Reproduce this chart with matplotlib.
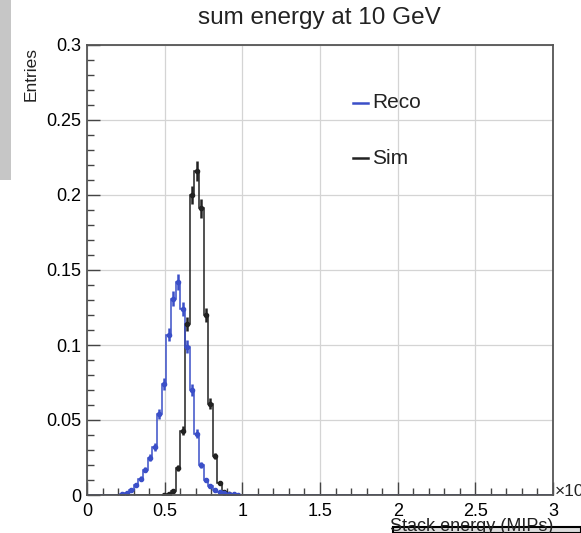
import matplotlib
matplotlib.use('Agg')
import matplotlib.pyplot as plt
from matplotlib.patches import Rectangle
from matplotlib.ticker import MultipleLocator, FixedLocator, FixedFormatter
import numpy as np

plt.rcParams['font.family'] = ['Liberation Sans', 'DejaVu Sans']

# binning: 100 bins over 0..3 (x10^3 MIPs)
n_bins = 100
x_lo = 0.0
x_hi = 3.0
n_entries = 5000   # used for the per-bin statistical errors

# normalised bin contents, starting at the given bin index
reco_start = 7
reco_vals = [0.0007, 0.0015, 0.0035, 0.007, 0.011, 0.017, 0.025, 0.032,
             0.054, 0.074, 0.107, 0.131, 0.142, 0.124, 0.099, 0.070,
             0.041, 0.020, 0.010, 0.006, 0.0035, 0.002, 0.0012, 0.0008,
             0.0004, 0.0002]
sim_start = 16
sim_vals = [0.0003, 0.001, 0.003, 0.018, 0.043, 0.114, 0.200, 0.216,
            0.191, 0.120, 0.061, 0.026, 0.008, 0.002, 0.0005]

yticks = [0, 0.05, 0.1, 0.15, 0.2, 0.25, 0.3]
ytick_labels = ['0', '0.05', '0.1', '0.15', '0.2', '0.25', '0.3']
xticks = [0, 0.5, 1, 1.5, 2, 2.5, 3]
xtick_labels = ['0', '0.5', '1', '1.5', '2', '2.5', '3']

reco_color = '#3b4fc8'
sim_color = '#222222'


def fill_hist(start, vals):
	h = np.zeros(n_bins)
	h[start:start+len(vals)] = vals
	return h


edges = np.linspace(x_lo, x_hi, n_bins+1)
centers = 0.5*(edges[1:]+edges[:-1])
reco = fill_hist(reco_start, reco_vals)
sim = fill_hist(sim_start, sim_vals)

W, H = 581, 533
fig = plt.figure(figsize=(W/100, H/100), dpi=100)
ax = fig.add_axes([87/W, 1-495/H, (553-87)/W, (495-45)/H])

ax.set_xlim(x_lo, x_hi)
ax.set_ylim(0, 0.3)

ax.xaxis.set_major_locator(FixedLocator(xticks))
ax.xaxis.set_major_formatter(FixedFormatter(xtick_labels))
ax.yaxis.set_major_locator(FixedLocator(yticks))
ax.yaxis.set_major_formatter(FixedFormatter(ytick_labels))
ax.xaxis.set_minor_locator(MultipleLocator(0.1))
ax.yaxis.set_minor_locator(MultipleLocator(0.01))
ax.tick_params(which='both', direction='in', color='#444444', width=1.0)
ax.tick_params(which='major', length=9.5, labelsize=13, pad=4)
ax.tick_params(axis='x', which='major', pad=6)
ax.tick_params(which='minor', length=5)
ax.grid(True, which='major', color='#d4d4d4', linewidth=0.9)
ax.set_axisbelow(True)
for s in ax.spines.values():
	s.set_color('#555555')
	s.set_linewidth(1.3)

# Sim first, Reco drawn on top of it
for h, col in [(sim, sim_color), (reco, reco_color)]:
	ax.stairs(h, edges, color=col, linewidth=1.1)
	m = h > 0
	err = np.sqrt(h[m]/n_entries)
	ax.errorbar(centers[m], h[m], yerr=err, fmt='o', ms=3.0, color=col,
		elinewidth=1.8, capsize=0)

# legend, no frame
for y, col, lab in [(102.7, reco_color, 'Reco'), (158.3, sim_color, 'Sim')]:
	fig.add_artist(plt.Line2D([353/W, 368/W], [1-y/H, 1-y/H], color=col, linewidth=1.8))
	fig.text(372/W, 1-y/H, lab, fontsize=15, va='center', ha='left', color='#222222')

fig.text(319/W, 1-18/H, 'sum energy at 10 GeV', fontsize=17.5, ha='center', va='center', color='#222222')
fig.text(31/W, 1-47/H, 'Entries', fontsize=12.5, rotation=90, ha='center', va='top', color='#222222')
fig.text(555/W, 1-492/H, '\u00d710', fontsize=12.5, ha='left', va='center', color='#222222')
fig.text(553/W, 1-531/H, 'Stack energy (MIPs)', fontsize=13, ha='right', va='baseline', color='#222222')

# overlapping panels at the edges of the canvas
fig.add_artist(Rectangle((0, 1-180/H), 11/W, 180/H, transform=fig.transFigure,
	facecolor='#c6c6c6', edgecolor='none'))
fig.add_artist(Rectangle((393/W, 0), 1-393/W, 1-527/H, transform=fig.transFigure,
	facecolor='#dddddd', edgecolor='black', linewidth=1.5))

fig.savefig('out.png', dpi=100)
